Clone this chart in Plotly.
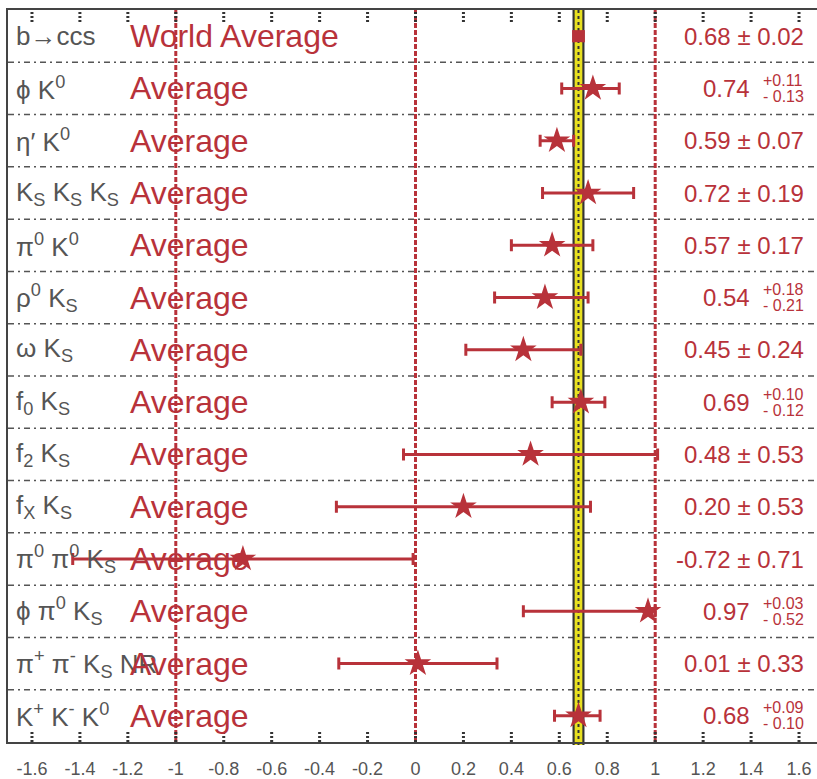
import plotly.graph_objects as go

# Measurements of sin(2beta_eff), one row per decay mode (top to bottom)
modes = [
    "b→ccs",
    "ϕ K<sup>0</sup>",
    "η′ K<sup>0</sup>",
    "K<sub>S</sub> K<sub>S</sub> K<sub>S</sub>",
    "π<sup>0</sup> K<sup>0</sup>",
    "ρ<sup>0</sup> K<sub>S</sub>",
    "ω K<sub>S</sub>",
    "f<sub>0</sub> K<sub>S</sub>",
    "f<sub>2</sub> K<sub>S</sub>",
    "f<sub>X</sub> K<sub>S</sub>",
    "π<sup>0</sup> π<sup>0</sup> K<sub>S</sub>",
    "ϕ π<sup>0</sup> K<sub>S</sub>",
    "π<sup>+</sup> π<sup>-</sup> K<sub>S</sub> NR",
    "K<sup>+</sup> K<sup>-</sup> K<sup>0</sup>",
]
row_titles = ["World Average"] + ["Average"] * 13
values = [0.68, 0.74, 0.59, 0.72, 0.57, 0.54, 0.45, 0.69, 0.48, 0.20, -0.72, 0.97, 0.01, 0.68]
err_plus = [0.02, 0.11, 0.07, 0.19, 0.17, 0.18, 0.24, 0.10, 0.53, 0.53, 0.71, 0.03, 0.33, 0.09]
err_minus = [0.02, 0.13, 0.07, 0.19, 0.17, 0.21, 0.24, 0.12, 0.53, 0.53, 0.71, 0.52, 0.33, 0.10]
tick_vals = [-1.6, -1.4, -1.2, -1.0, -0.8, -0.6, -0.4, -0.2, 0.0, 0.2, 0.4, 0.6, 0.8, 1.0, 1.2, 1.4, 1.6]
tick_text = ["-1.6", "-1.4", "-1.2", "-1", "-0.8", "-0.6", "-0.4", "-0.2", "0",
             "0.2", "0.4", "0.6", "0.8", "1", "1.2", "1.4", "1.6"]
ref_lines = [-1.0, 0.0, 1.0]

RED = "#b8323a"
GREY = "#555555"
DARK = "#333333"
FONT = "Liberation Sans, Arial, sans-serif"

W, H = 817, 779
ML, MR, MT, MB = 8, 0, 10, 33
PW = W - ML - MR
PH = H - MT - MB


def px_x(px):
    return (px - ML) / PW


n = len(values)
rows = list(range(n))
wa_val, wa_err = values[0], err_plus[0]

fig = go.Figure()

# World average marker
fig.add_trace(go.Scatter(
    x=[values[0]], y=[0], mode="markers",
    marker=dict(symbol="square", size=12, color=RED),
    error_x=dict(type="data", symmetric=False, array=[err_plus[0]],
                 arrayminus=[err_minus[0]], color=RED, thickness=3, width=6),
    showlegend=False, hoverinfo="skip",
))

# Individual mode averages
fig.add_trace(go.Scatter(
    x=values[1:], y=rows[1:], mode="markers",
    marker=dict(symbol="star", size=20, color=RED, line=dict(width=0)),
    error_x=dict(type="data", symmetric=False, array=err_plus[1:],
                 arrayminus=err_minus[1:], color=RED, thickness=3, width=6),
    showlegend=False, hoverinfo="skip",
))

shapes = []
# Row separators
for i in range(n - 1):
    shapes.append(dict(type="line", xref="paper", yref="y", x0=0, x1=1,
                       y0=i + 0.5, y1=i + 0.5, layer="below",
                       line=dict(color=GREY, width=1.5, dash="6px,4px,2px,4px")))
# Reference lines at -1, 0, 1
for xv in ref_lines:
    shapes.append(dict(type="line", xref="x", yref="paper", x0=xv, x1=xv,
                       y0=0, y1=1, layer="below",
                       line=dict(color=RED, width=3, dash="5px,2px")))
# World-average band
shapes.append(dict(type="rect", xref="x", yref="paper",
                   x0=wa_val - 0.025, x1=wa_val + 0.025, y0=-0.004, y1=1,
                   layer="below", fillcolor=DARK, line=dict(width=0)))
shapes.append(dict(type="rect", xref="x", yref="paper",
                   x0=wa_val - wa_err * 0.8, x1=wa_val + wa_err * 0.8, y0=-0.004, y1=1,
                   layer="below", fillcolor="#e8e020", line=dict(width=0)))
shapes.append(dict(type="line", xref="x", yref="paper", x0=wa_val, x1=wa_val,
                   y0=-0.004, y1=1, layer="below",
                   line=dict(color=DARK, width=2, dash="3px,3px")))
# Dotted tick marks along top and bottom edges
tick_len = 12 / PH
for tv in tick_vals:
    for y0, y1 in [(0, tick_len), (1 - tick_len, 1)]:
        shapes.append(dict(type="line", xref="x", yref="paper", x0=tv, x1=tv,
                           y0=y0, y1=y1, layer="above",
                           line=dict(color=DARK, width=3, dash="2px,2px")))

annotations = []
for i in range(n):
    annotations.append(dict(x=px_x(14), y=i, xref="paper", yref="y", text=modes[i],
                            showarrow=False, xanchor="left", yanchor="middle",
                            font=dict(family=FONT, size=26, color=GREY)))
    annotations.append(dict(x=px_x(128), y=i, xref="paper", yref="y", text=row_titles[i],
                            showarrow=False, xanchor="left", yanchor="middle",
                            font=dict(family=FONT, size=32, color=RED)))
    if abs(err_plus[i] - err_minus[i]) < 1e-9:
        annotations.append(dict(x=px_x(806), y=i, xref="paper", yref="y",
                                text=f"{values[i]:.2f} ± {err_plus[i]:.2f}",
                                showarrow=False, xanchor="right", yanchor="middle",
                                font=dict(family=FONT, size=24, color=RED)))
    else:
        annotations.append(dict(x=px_x(752), y=i, xref="paper", yref="y",
                                text=f"{values[i]:.2f}",
                                showarrow=False, xanchor="right", yanchor="middle",
                                font=dict(family=FONT, size=24, color=RED)))
        annotations.append(dict(x=px_x(761), y=i, xref="paper", yref="y",
                                text=f"+{err_plus[i]:.2f}", yshift=8,
                                showarrow=False, xanchor="left", yanchor="middle",
                                font=dict(family=FONT, size=16, color=RED)))
        annotations.append(dict(x=px_x(761), y=i, xref="paper", yref="y",
                                text=f"- {err_minus[i]:.2f}", yshift=-8,
                                showarrow=False, xanchor="left", yanchor="middle",
                                font=dict(family=FONT, size=16, color=RED)))

fig.update_layout(
    width=W, height=H,
    margin=dict(l=ML, r=MR, t=MT, b=MB, pad=0),
    paper_bgcolor="white", plot_bgcolor="white",
    shapes=shapes, annotations=annotations,
    xaxis=dict(range=[-1.7, 1.675], tickvals=tick_vals, ticktext=tick_text,
               showgrid=False, zeroline=False, ticks="",
               showline=True, mirror=True, linecolor="#444444", linewidth=2,
               tickfont=dict(family=FONT, size=18, color=GREY),
               ticklabelstandoff=9),
    yaxis=dict(range=[n - 0.5, -0.5], showgrid=False, zeroline=False,
               showticklabels=False, ticks="",
               showline=True, mirror=False, linecolor="#444444", linewidth=2),
)

fig.write_html("out.html")
